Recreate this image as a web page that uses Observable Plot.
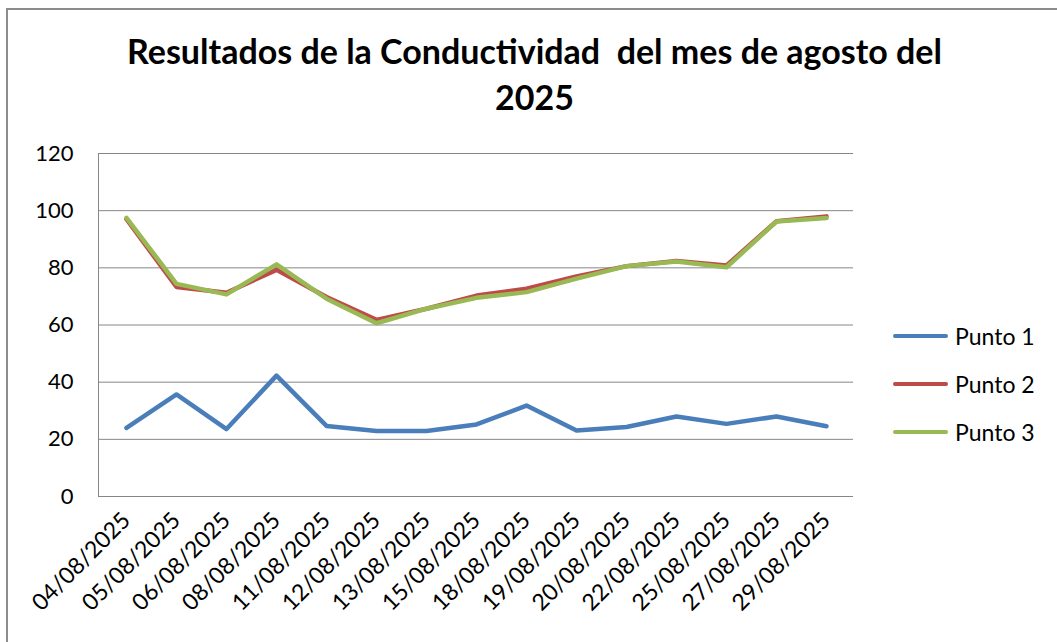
<!DOCTYPE html>
<html>
<head>
<meta charset="utf-8">
<script src="https://cdn.jsdelivr.net/npm/d3@7"></script>
<script src="https://cdn.jsdelivr.net/npm/@observablehq/plot@0.6"></script>
<style>
  html, body { margin: 0; padding: 0; background: #fff; }
  #wrap { position: relative; width: 1057px; height: 642px; font-family: Lato, "Open Sans", sans-serif; overflow: hidden; }
  #border { position: absolute; left: 6px; top: 8px; width: 1100px; height: 700px; border-left: 2px solid #8c8c8c; border-top: 2px solid #8c8c8c; }
  #title { position: absolute; left: 0; top: 28px; width: 1069px; text-align: center; font-weight: bold; font-size: 34px; line-height: 46px; color: #000; white-space: nowrap; }
  #chart { position: absolute; left: 0; top: 0; }
  #legend { position: absolute; left: 893px; top: 312px; font-size: 23px; color: #000; }
  .item { display: flex; align-items: center; height: 48px; }
  .sw { width: 55px; height: 4.5px; border-radius: 2px; margin-right: 7px; }
</style>
</head>
<body>
<div id="wrap">
  <div id="border"></div>
  <div id="title">Resultados de la Conductividad&nbsp; del mes de agosto del<br>2025</div>
  <div id="chart"></div>
  <div id="legend"></div>
</div>
<script>
const fechas = ["04/08/2025","05/08/2025","06/08/2025","08/08/2025","11/08/2025","12/08/2025","13/08/2025","15/08/2025","18/08/2025","19/08/2025","20/08/2025","22/08/2025","25/08/2025","27/08/2025","29/08/2025"];
const punto1 = [24.0, 35.7, 23.6, 42.3, 24.7, 22.9, 22.9, 25.2, 31.8, 23.1, 24.3, 28.0, 25.4, 28.0, 24.6];
const punto2 = [97.0, 73.3, 71.3, 79.3, 69.8, 61.8, 65.7, 70.3, 72.7, 77.0, 80.6, 82.4, 80.8, 96.3, 98.0];
const punto3 = [97.5, 74.4, 70.7, 81.2, 69.2, 60.6, 65.7, 69.5, 71.5, 76.2, 80.6, 82.2, 80.2, 96.2, 97.4];
const series = ["Punto 1", "Punto 2", "Punto 3"];
const colores = ["#4a7ebb", "#be4b48", "#98b954"];
const yTicks = [0, 20, 40, 60, 80, 100, 120];

const valores = [punto1, punto2, punto3];
const datos = [];
series.forEach((s, i) => fechas.forEach((f, j) => datos.push({serie: s, fecha: f, valor: valores[i][j]})));

const chart = Plot.plot({
  width: 1057,
  height: 642,
  marginTop: 153,
  marginBottom: 146,
  marginLeft: 98,
  marginRight: 204,
  style: {fontFamily: "Lato, 'Open Sans', sans-serif", fontSize: "22px", color: "#000", background: "transparent"},
  x: {type: "point", domain: fechas, padding: 0.5, label: null},
  y: {domain: [0, 120], label: null},
  color: {domain: series, range: colores},
  marks: [
    Plot.ruleY(yTicks, {stroke: "#868686", strokeWidth: 1, strokeOpacity: 1}),
    Plot.frame({anchor: "left", stroke: "#868686", strokeOpacity: 1}),
    Plot.axisY({ticks: yTicks, tickSize: 0, tickPadding: 25, label: null, fontSize: 22}),
    Plot.axisX({tickSize: 0, tickRotate: -45, tickPadding: 20, label: null, fontSize: 23}),
    Plot.line(datos, {x: "fecha", y: "valor", z: "serie", stroke: "serie", strokeWidth: 4.5, strokeLinejoin: "round", strokeLinecap: "round"})
  ]
});
document.getElementById("chart").appendChild(chart);

const legend = d3.select("#legend");
series.forEach((s, i) => {
  const it = legend.append("div").attr("class", "item");
  it.append("div").attr("class", "sw").style("background", colores[i]);
  it.append("span").text(s);
});
</script>
</body>
</html>
